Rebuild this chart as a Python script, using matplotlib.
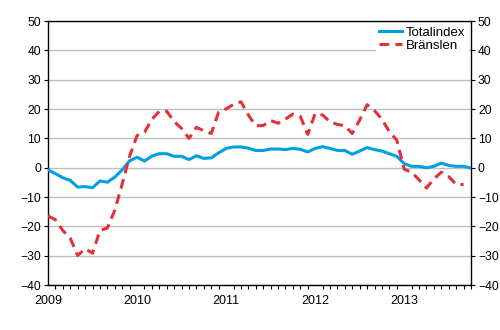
import numpy as np
import matplotlib
matplotlib.use('Agg')
import matplotlib.pyplot as plt
from matplotlib.ticker import MultipleLocator

plt.rcParams['font.family'] = ['Liberation Sans', 'DejaVu Sans']

# monthly values, Jan 2009 onwards
totalindex = [-0.7, -2.0, -3.4, -4.3, -6.6, -6.4, -6.8, -4.5, -4.9, -3.2,
              -0.7, 2.4, 3.6, 2.3, 4.0, 4.8, 4.8, 3.9, 3.9, 2.8,
              4.1, 3.2, 3.4, 5.1, 6.6, 7.1, 7.1, 6.7, 5.9, 5.9,
              6.4, 6.4, 6.2, 6.6, 6.3, 5.4, 6.6, 7.2, 6.6, 5.9,
              5.9, 4.6, 5.7, 6.9, 6.2, 5.7, 4.8, 3.9, 1.4, 0.5,
              0.5, 0.0, 0.5, 1.6, 0.8, 0.5, 0.5, -0.1]
branslen = [-16.4, -17.7, -21.4, -24.0, -29.9, -27.6, -29.1, -21.4, -20.5, -14.5,
            -5.5, 4.0, 11.0, 12.1, 16.5, 19.3, 19.3, 15.7, 13.4, 10.0,
            13.8, 12.6, 11.7, 19.0, 20.1, 21.6, 22.5, 18.0, 14.3, 14.4,
            16.1, 15.2, 16.6, 18.3, 17.5, 11.4, 18.5, 18.0, 15.7, 14.8,
            14.3, 11.7, 16.3, 21.5, 19.5, 16.5, 12.3, 9.4, -0.5, -1.5,
            -4.1, -6.9, -3.8, -1.5, -3.0, -5.7, -5.7]
year_labels = ['2009', '2010', '2011', '2012', '2013']

fig = plt.figure(figsize=(5, 3.3), dpi=100)
ax = fig.add_axes([0.096, 0.136, 0.846, 0.8])

ax.plot(np.arange(len(totalindex)), totalindex, color='#00A0E0', lw=2.2,
        label='Totalindex', zorder=3)
ax.plot(np.arange(len(branslen)), branslen, color='#E03238', lw=2.2,
        dashes=(3.2, 2.0), label='Bränslen', zorder=3)

ax.set_xlim(0, 57)
ax.set_ylim(-40, 50)
ax.yaxis.set_major_locator(MultipleLocator(10))
ax.grid(axis='y', color='#BEBEBE', lw=1)
ax.set_axisbelow(True)

ax.set_xticks(np.arange(0, 58, 12))
ax.set_xticklabels(year_labels)
ax.set_xticks(np.arange(0, 58), minor=True)
ax.tick_params(axis='x', which='major', length=0, labelsize=9, pad=7)
ax.tick_params(axis='x', which='minor', length=3, direction='out', width=0.8)
ax.tick_params(axis='y', length=3, labelsize=8.7, width=0.8,
               left=True, right=True, labelleft=True, labelright=True, pad=2)

for s in ax.spines.values():
    s.set_linewidth(1)
    s.set_color('black')

leg = ax.legend(loc='upper right', frameon=True, fontsize=9.5, handlelength=1.8,
                borderaxespad=0.2, labelspacing=0.05, borderpad=0.2,
                handletextpad=0.3)
leg.get_frame().set_edgecolor('white')
leg.get_frame().set_alpha(1)

fig.savefig('out.png', dpi=100)
